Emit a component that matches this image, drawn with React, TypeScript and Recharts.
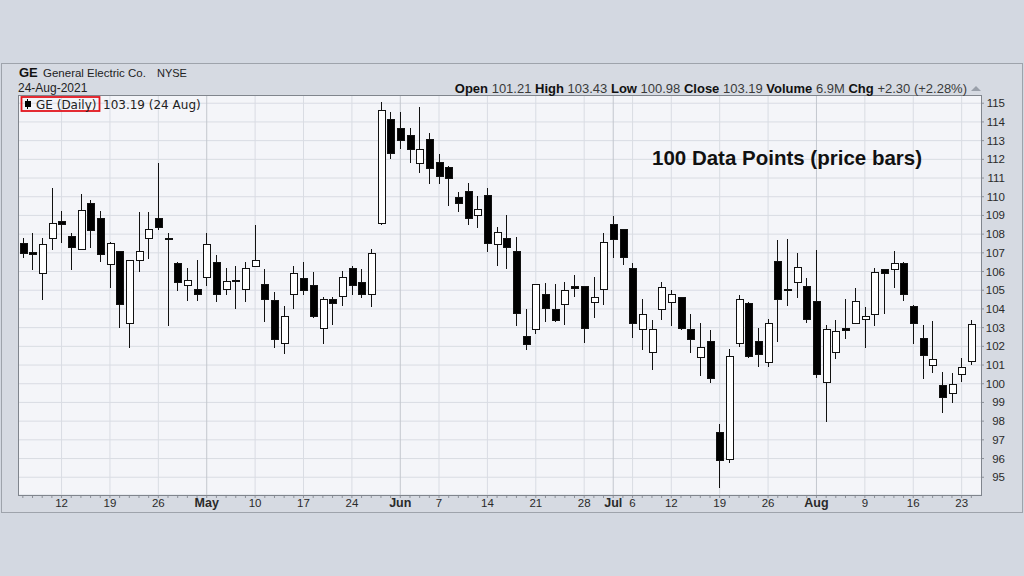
import { ComposedChart, Bar, XAxis, YAxis, CartesianGrid } from "recharts"

// trading days shown (Apr 6 - Aug 24, 2021)
const dates = [
	"Apr 6", "Apr 7", "Apr 8", "Apr 9", "Apr 12", "Apr 13", "Apr 14", "Apr 15", "Apr 16", "Apr 19",
	"Apr 20", "Apr 21", "Apr 22", "Apr 23", "Apr 26", "Apr 27", "Apr 28", "Apr 29", "Apr 30",
	"May 3", "May 4", "May 5", "May 6", "May 7", "May 10", "May 11", "May 12", "May 13", "May 14",
	"May 17", "May 18", "May 19", "May 20", "May 21", "May 24", "May 25", "May 26", "May 27", "May 28",
	"Jun 1", "Jun 2", "Jun 3", "Jun 4", "Jun 7", "Jun 8", "Jun 9", "Jun 10", "Jun 11", "Jun 14",
	"Jun 15", "Jun 16", "Jun 17", "Jun 18", "Jun 21", "Jun 22", "Jun 23", "Jun 24", "Jun 25", "Jun 28",
	"Jun 29", "Jun 30",
	"Jul 1", "Jul 2", "Jul 6", "Jul 7", "Jul 8", "Jul 9", "Jul 12", "Jul 13", "Jul 14", "Jul 15",
	"Jul 16", "Jul 19", "Jul 20", "Jul 21", "Jul 22", "Jul 23", "Jul 26", "Jul 27", "Jul 28", "Jul 29",
	"Jul 30",
	"Aug 2", "Aug 3", "Aug 4", "Aug 5", "Aug 6", "Aug 9", "Aug 10", "Aug 11", "Aug 12", "Aug 13",
	"Aug 16", "Aug 17", "Aug 18", "Aug 19", "Aug 20", "Aug 23", "Aug 24",
]

const opens = [
	107.48, 107.0, 105.91, 107.78, 108.7, 107.87, 107.19, 109.62, 108.83, 106.39,
	107.07, 103.24, 106.57, 107.78, 108.81, 107.78, 106.44, 105.23, 105.05,
	105.7, 106.5, 105.05, 105.54, 105.05, 106.27, 105.29, 104.45, 102.17, 104.75,
	105.64, 105.23, 102.97, 104.52, 104.66, 106.14, 105.43, 104.75, 108.55, 114.11,
	113.63, 113.25, 111.76, 113.07, 111.83, 111.56, 109.97, 110.27, 109.01, 110.05,
	107.42, 107.78, 107.07, 102.52, 102.91, 104.75, 103.95, 104.25, 105.18, 105.2,
	104.36, 105.02,
	108.53, 108.23, 106.14, 102.91, 101.68, 103.95, 104.36, 104.63, 102.91, 101.4,
	102.25, 97.39, 95.93, 102.17, 104.27, 102.25, 101.13, 106.53, 105.04, 105.41,
	105.2,
	104.39, 100.06, 101.68, 102.94, 103.24, 103.45, 103.72, 106.09, 106.09, 106.41,
	104.13, 102.43, 100.95, 99.9, 99.46, 100.51, 101.21,
]

const highs = [
	107.78, 108.05, 107.78, 110.49, 109.26, 108.08, 110.13, 109.83, 109.26, 107.6,
	107.1, 106.6, 109.21, 109.21, 111.83, 108.08, 106.53, 106.18, 106.59,
	108.05, 106.89, 106.18, 106.27, 106.53, 108.49, 106.14, 104.88, 104.16, 106.27,
	106.53, 106.0, 104.66, 104.66, 106.03, 106.3, 106.14, 107.2, 115.04, 114.55,
	114.55, 113.66, 114.79, 113.4, 112.29, 111.65, 110.27, 110.76, 110.05, 110.45,
	108.37, 109.03, 107.87, 103.98, 105.32, 105.37, 105.32, 105.45, 105.82, 105.22,
	105.73, 108.08,
	108.98, 108.3, 106.48, 104.52, 103.41, 105.46, 105.02, 104.66, 103.73, 103.24,
	102.88, 97.83, 101.84, 104.75, 104.39, 102.97, 103.45, 107.69, 107.75, 106.98,
	105.68,
	107.16, 103.15, 103.41, 104.52, 105.11, 104.13, 106.21, 106.12, 107.12, 106.53,
	104.22, 103.15, 103.36, 100.65, 100.56, 101.36, 103.43,
]

const lows = [
	106.71, 106.07, 104.48, 107.16, 107.51, 106.07, 107.15, 107.25, 106.53, 105.14,
	102.97, 101.93, 106.0, 106.66, 108.2, 103.09, 104.96, 104.45, 104.43,
	105.2, 104.36, 104.75, 104.0, 104.36, 106.23, 103.32, 101.93, 101.58, 104.0,
	104.75, 103.5, 102.11, 103.14, 104.16, 104.75, 104.57, 104.13, 108.5, 112.0,
	112.56, 111.83, 111.29, 110.69, 110.69, 109.53, 109.17, 108.5, 108.32, 107.03,
	106.27, 106.14, 103.09, 101.81, 102.65, 103.32, 103.32, 103.14, 104.66, 102.17,
	103.5, 104.22,
	106.71, 106.35, 102.43, 101.81, 100.74, 103.41, 103.09, 102.9, 101.63, 100.44,
	100.06, 94.45, 95.78, 101.95, 101.4, 100.92, 100.88, 102.22, 104.16, 104.57,
	103.24,
	100.29, 97.98, 101.31, 102.38, 103.2, 101.9, 103.09, 103.72, 105.11, 104.43,
	102.11, 100.24, 100.6, 98.46, 98.96, 100.08, 100.98,
]

const closes = [
	106.98, 106.95, 107.42, 108.58, 108.53, 107.3, 109.26, 108.19, 106.93, 107.48,
	104.25, 106.57, 107.07, 108.23, 108.35, 107.72, 105.41, 105.5, 104.75,
	107.42, 104.75, 105.46, 105.5, 106.18, 106.57, 104.48, 102.38, 103.59, 105.91,
	104.98, 103.59, 104.52, 104.27, 105.68, 105.23, 104.75, 106.98, 114.61, 112.29,
	113.0, 112.5, 112.54, 111.49, 111.08, 111.0, 109.62, 108.81, 109.3, 107.51,
	108.08, 107.28, 103.77, 102.08, 105.32, 104.0, 103.38, 105.01, 105.14, 102.97,
	104.63, 107.55,
	107.69, 106.75, 103.2, 103.72, 102.88, 105.16, 104.75, 102.97, 102.38, 101.95,
	100.29, 95.87, 101.45, 104.52, 101.45, 101.58, 103.24, 104.48, 105.0, 106.21,
	103.45,
	100.47, 102.91, 102.79, 102.9, 104.39, 103.59, 105.94, 105.91, 106.41, 104.79,
	103.2, 101.49, 101.31, 99.28, 99.94, 100.86, 103.19,
]

const priceTicks = [95, 96, 97, 98, 99, 100, 101, 102, 103, 104, 105, 106, 107, 108, 109, 110, 111, 112, 113, 114, 115]

const weekStarts = [
	"Apr 12", "Apr 19", "Apr 26", "May 3", "May 10", "May 17", "May 24", "Jun 1", "Jun 7", "Jun 14",
	"Jun 21", "Jun 28", "Jul 1", "Jul 6", "Jul 12", "Jul 19", "Jul 26", "Aug 2", "Aug 9", "Aug 16", "Aug 23",
]
const monthStarts = ["May 3", "Jun 1", "Jul 1", "Aug 2"]

const data = dates.map((d, i) => ({
	i,
	date: d,
	open: opens[i],
	high: highs[i],
	low: lows[i],
	close: closes[i],
	range: [lows[i], highs[i]],
}))

const weekIdx = weekStarts.filter((d) => !monthStarts.includes(d)).map((d) => dates.indexOf(d))
const monthIdx = monthStarts.map((d) => dates.indexOf(d))
const xDomain = [-0.5, dates.length]

const FONT = "'Liberation Sans', Arial, sans-serif"

const gridAt = (idx: number[]) => (props: any) => {
	const { xAxis, offset } = props
	const s = xAxis && xAxis.scale
	return idx.map((i) => {
		if (typeof s === "function") return s(i)
		if (s && typeof s.map === "function") return s.map(i)
		return offset.left + ((i - xDomain[0]) / (xDomain[1] - xDomain[0])) * offset.width
	})
}

function Candle(props: any) {
	let { x, y, width, height } = props
	const p = props.payload || props
	if (x == null || y == null || height == null) return null
	if (height < 0) {
		y += height
		height = -height
	}
	const { open, close, high, low } = p
	const cx = Math.round(x + width / 2) + 0.5
	const py = (v: number) => y + ((high - v) / (high - low)) * height
	const top = py(Math.max(open, close))
	const bot = py(Math.min(open, close))
	const up = close >= open
	const bh = Math.max(bot - top, 1.5)
	return (
		<g shapeRendering="crispEdges">
			<line x1={cx} x2={cx} y1={y} y2={y + height} stroke="#111" strokeWidth={1} />
			<rect
				x={cx - 3.5}
				y={top}
				width={7}
				height={bh}
				fill={up ? "#ffffff" : "#000000"}
				stroke="#111"
				strokeWidth={1}
			/>
		</g>
	)
}

function XTick(props: any) {
	const { x, y, payload } = props
	const d = dates[payload.value]
	if (!d) return null
	const isWeek = weekStarts.includes(d)
	const isMonth = monthStarts.includes(d)
	const [mon, day] = d.split(" ")
	return (
		<g>
			<line x1={x} x2={x} y1={y + 1} y2={y + 3} stroke="#8d9199" />
			{isWeek && (
				<text
					x={x}
					y={y + 12}
					textAnchor="middle"
					fontFamily={FONT}
					fontSize={isMonth ? 12.5 : 11.5}
					fontWeight={isMonth ? 700 : 400}
					fill="#2a2a2a"
				>
					{isMonth ? mon : day}
				</text>
			)}
		</g>
	)
}

function YTick(props: any) {
	const { x, y, payload } = props
	return (
		<text x={x + 19} y={y + 4} textAnchor="end" fontFamily={FONT} fontSize={11.5} fill="#2a2a2a">
			{payload.value}
		</text>
	)
}

export default function App() {
	return (
		<div
			style={{
				position: "fixed",
				left: 0,
				top: 0,
				width: 1024,
				height: 576,
				background: "#d3d8e1",
				overflow: "hidden",
				fontFamily: FONT,
			}}
		>
			<div
				style={{
					position: "absolute",
					left: 1,
					top: 63,
					width: 1022,
					height: 450,
					border: "1px solid #9ea3ab",
					background: "#d6dae2",
					boxSizing: "border-box",
				}}
			/>
			<div style={{ position: "absolute", left: 0, top: 0 }}>
				<ComposedChart
					width={1024}
					height={576}
					data={data}
					margin={{ top: 95, left: 18, right: 3, bottom: 61 }}
				>
					<CartesianGrid
						stroke="#d9dce3"
						fill="#f4f5f9"
						verticalCoordinatesGenerator={gridAt(weekIdx)}
					/>
					<CartesianGrid
						horizontal={false}
						stroke="#c3c7ce"
						verticalCoordinatesGenerator={gridAt(monthIdx)}
					/>
					<XAxis
						dataKey="i"
						type="number"
						domain={xDomain}
						allowDataOverflow
						ticks={data.map((d) => d.i)}
						interval={0}
						tick={<XTick />}
						tickLine={false}
						tickSize={0}
						tickMargin={0}
						axisLine={false}
						height={20}
					/>
					<YAxis
						orientation="right"
						type="number"
						domain={[94.05, 115.44]}
						allowDataOverflow
						ticks={priceTicks}
						interval={0}
						width={40}
						tickSize={3}
						tickMargin={2}
						tickLine={{ stroke: "#8d9199" }}
						axisLine={false}
						tick={<YTick />}
					/>
					<Bar dataKey="range" shape={<Candle />} barSize={7} isAnimationActive={false} />
				</ComposedChart>
			</div>
			<div
				style={{
					position: "absolute",
					left: 18,
					top: 95,
					width: 964,
					height: 401,
					border: "1px solid #80858d",
					boxSizing: "border-box",
					pointerEvents: "none",
				}}
			/>
			<svg
				width={1024}
				height={576}
				style={{ position: "absolute", left: 0, top: 0, pointerEvents: "none" }}
			>
				<text x={19} y={77} fontFamily={FONT} fontSize={13} fontWeight={700} fill="#111">
					GE
				</text>
				<text x={43} y={77} fontFamily={FONT} fontSize={11.5} fill="#222">
					General Electric Co.
				</text>
				<text x={157} y={77} fontFamily={FONT} fontSize={11} fill="#222">
					NYSE
				</text>
				<text x={18} y={92} fontFamily={FONT} fontSize={12} fill="#222">
					24-Aug-2021
				</text>
				<text x={967} y={92.5} textAnchor="end" fontFamily={FONT} fontSize={13} fill="#3a3a3a">
					<tspan fontWeight={700} fill="#111">Open</tspan> 101.21{"  "}
					<tspan fontWeight={700} fill="#111">High</tspan> 103.43{"  "}
					<tspan fontWeight={700} fill="#111">Low</tspan> 100.98{"  "}
					<tspan fontWeight={700} fill="#111">Close</tspan> 103.19{"  "}
					<tspan fontWeight={700} fill="#111">Volume</tspan> 6.9M{"  "}
					<tspan fontWeight={700} fill="#111">Chg</tspan> +2.30 (+2.28%)
				</text>
				<polygon points="971,91 976,86 981,91" fill="#9aa0aa" />

				<rect x={21.5} y={97} width={78} height={14} fill="none" stroke="#e3161d" strokeWidth={1.8} />
				<line x1={27.5} x2={27.5} y1={99} y2={109} stroke="#000" />
				<rect x={25} y={101} width={6} height={6} fill="#000" />
				<text x={36} y={108.5} fontFamily="'DejaVu Sans', sans-serif" fontSize={12} fill="#222">
					GE (Daily)
				</text>
				<text x={103} y={108.5} fontFamily="'DejaVu Sans', sans-serif" fontSize={12} fill="#222">
					103.19 (24 Aug)
				</text>

				<text x={652} y={165} fontFamily={FONT} fontSize={20.5} fontWeight={700} fill="#111">
					100 Data Points (price bars)
				</text>
			</svg>
		</div>
	)
}
